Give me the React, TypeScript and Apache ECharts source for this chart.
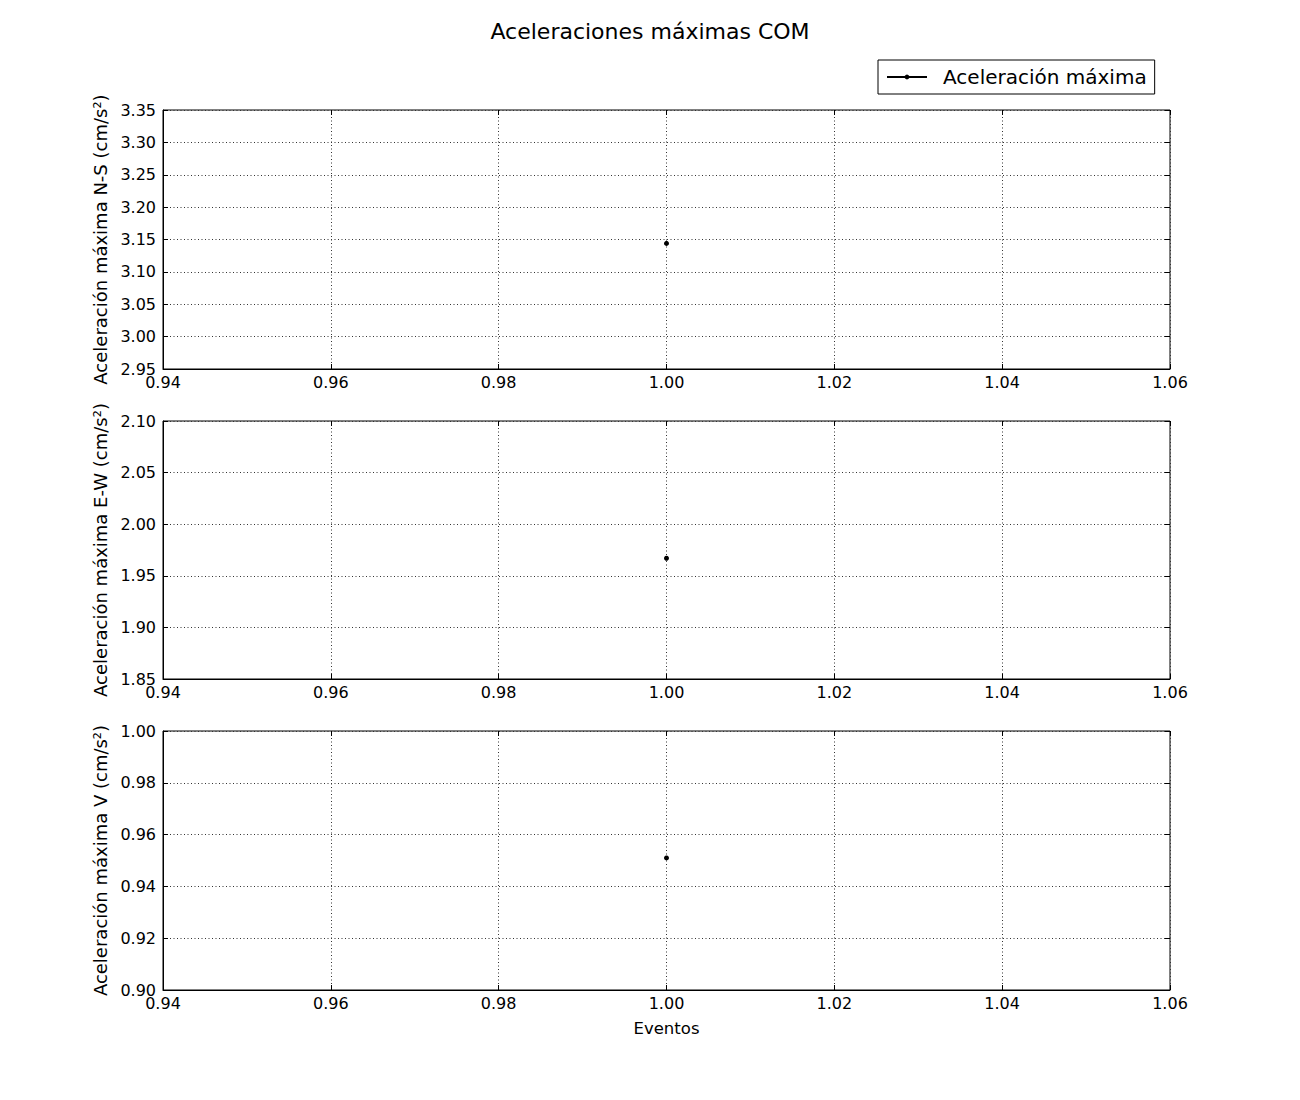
import React, { useEffect, useRef } from "react";
import * as echarts from "echarts";

const chartTitle = "Aceleraciones máximas COM";
const seriesName = "Aceleración máxima";
const xLabel = "Eventos";
const eventos = [1.0];
const nsValues = [3.144];
const ewValues = [1.967];
const vValues = [0.951];
const panelNames = [
  "Aceleración máxima N-S (cm/s²)",
  "Aceleración máxima E-W (cm/s²)",
  "Aceleración máxima V (cm/s²)",
];
const xRange = { min: 0.94, max: 1.06, interval: 0.02 };
const yRanges = [
  { min: 2.95, max: 3.35, interval: 0.05 },
  { min: 1.85, max: 2.1, interval: 0.05 },
  { min: 0.9, max: 1.0, interval: 0.02 },
];

const FONT = "DejaVu Sans";

export default function App() {
  const ref = useRef<HTMLDivElement>(null);
  useEffect(() => {
    if (!ref.current) return;
    const chart = echarts.init(ref.current, null, { renderer: "svg" });
    const panels = [nsValues, ewValues, vValues];
    const gridTops = [110, 421, 731];
    const gridHeights = [259, 258, 259];
    const grids = gridTops.map((t, i) => ({
      left: 163,
      width: 1007,
      top: t,
      height: gridHeights[i],
      show: true,
      borderColor: "#000",
      borderWidth: 1,
      backgroundColor: "transparent",
    }));
    const gridLine = { show: true, lineStyle: { color: "#333", width: 1, type: [1, 2.5] as any } };
    const xAxes: any[] = [];
    const yAxes: any[] = [];
    panels.forEach((_, i) => {
      xAxes.push({
        type: "value",
        gridIndex: i,
        position: "bottom",
        min: xRange.min,
        max: xRange.max,
        interval: xRange.interval,
        axisLine: { show: true, onZero: false, lineStyle: { color: "#000" } },
        axisTick: { show: true, inside: true, length: 5, lineStyle: { color: "#000" } },
        axisLabel: {
          color: "#000",
          fontFamily: FONT,
          fontSize: 16,
          margin: 5,
          formatter: (v: number) => v.toFixed(2),
        },
        splitLine: gridLine,
        name: i === 2 ? xLabel : "",
        nameLocation: "middle",
        nameGap: 30,
        nameTextStyle: { color: "#000", fontFamily: FONT, fontSize: 16.5 },
      });
      xAxes.push({
        type: "value",
        gridIndex: i,
        position: "top",
        min: xRange.min,
        max: xRange.max,
        interval: xRange.interval,
        axisLine: { show: false },
        axisTick: { show: true, inside: true, length: 5, lineStyle: { color: "#000" } },
        axisLabel: { show: false },
        splitLine: { show: false },
      });
      const yr = yRanges[i];
      yAxes.push({
        type: "value",
        gridIndex: i,
        position: "left",
        min: yr.min,
        max: yr.max,
        interval: yr.interval,
        axisLine: { show: true, onZero: false, lineStyle: { color: "#000" } },
        axisTick: { show: true, inside: true, length: 5, lineStyle: { color: "#000" } },
        axisLabel: {
          color: "#000",
          fontFamily: FONT,
          fontSize: 16,
          margin: 7,
          formatter: (v: number) => v.toFixed(2),
        },
        splitLine: gridLine,
        name: panelNames[i],
        nameLocation: "middle",
        nameGap: 51,
        nameRotate: 90,
        nameTextStyle: { color: "#000", fontFamily: FONT, fontSize: 18 },
      });
      yAxes.push({
        type: "value",
        gridIndex: i,
        position: "right",
        min: yr.min,
        max: yr.max,
        interval: yr.interval,
        axisLine: { show: false },
        axisTick: { show: true, inside: true, length: 5, lineStyle: { color: "#000" } },
        axisLabel: { show: false },
        splitLine: { show: false },
      });
    });
    const series = panels.map((vals, i) => ({
      name: seriesName,
      type: "line",
      xAxisIndex: i * 2,
      yAxisIndex: i * 2,
      data: eventos.map((x, k) => [x, vals[k]]),
      symbol: "circle",
      symbolSize: 5,
      showSymbol: true,
      itemStyle: { color: "#000" },
      lineStyle: { color: "#000", width: 1 },
    }));
    chart.setOption({
      animation: false,
      backgroundColor: "#fff",
      title: {
        text: chartTitle,
        left: "center",
        top: 15,
        textStyle: { fontFamily: FONT, fontSize: 22, fontWeight: "normal", color: "#000" },
      },
      legend: {
        data: [seriesName],
        left: 878,
        top: 60,
        orient: "horizontal",
        padding: [5, 8, 5, 8],
        borderColor: "#000",
        borderWidth: 1,
        borderRadius: 0,
        itemWidth: 40,
        itemHeight: 6,
        textStyle: {
          fontFamily: FONT,
          fontSize: 20,
          color: "#000",
          lineHeight: 24,
          padding: [0, 0, 0, 11],
        },
      },
      grid: grids,
      xAxis: xAxes,
      yAxis: yAxes,
      series,
    });
    return () => chart.dispose();
  }, []);
  return (
    <div
      ref={ref}
      style={{ position: "absolute", left: 0, top: 0, width: 1300, height: 1100 }}
    />
  );
}
